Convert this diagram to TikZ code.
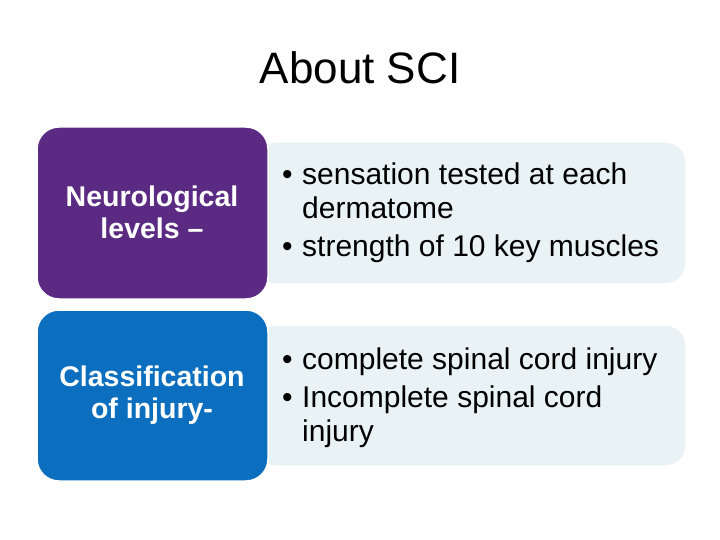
\documentclass[tikz,border=0pt]{standalone}
\usepackage{fontspec}
\setmainfont{Liberation Sans}
\definecolor{purp}{HTML}{5B2A82}
\definecolor{blu}{HTML}{0B6EBE}
\definecolor{lite}{HTML}{E9F3F6}
\begin{document}
\begin{tikzpicture}[x=1pt,y=-1pt,
  lbox/.style={fill=lite,draw=white,line width=1.5pt,rounded corners=20pt},
  dbox/.style={draw=white,line width=1.5pt,rounded corners=22pt},
  ltxt/.style={text=white,font=\bfseries\fontsize{28.5}{32}\selectfont,align=center},
  btxt/.style={anchor=west,font=\fontsize{30}{34}\selectfont,inner sep=0pt}]
\useasboundingbox (0,0) rectangle (720,540);
\node (title) at (360,68) {\fontsize{44}{48}\selectfont About SCI};
\path[lbox] (255,142) rectangle (686,284);
\path[dbox,fill=purp] (37,127) rectangle (268,299);
\path[lbox] (255,325) rectangle (686,466);
\path[dbox,fill=blu] (37,310) rectangle (268,481);
\node[ltxt] (l1) at (152,212) {Neurological\\levels –};
\node[ltxt] (l2) at (152,395) {Classification\\of injury-};
\node[btxt] (b1) at (282,213) {\begin{minipage}{410pt}\raggedright
\hangindent=20pt\makebox[20pt][l]{•}sensation tested at each\\\hspace*{20pt}dermatome\par\vspace{4pt}
\hangindent=20pt\makebox[20pt][l]{•}strength of 10 key muscles\end{minipage}};
\node[btxt] (b2) at (282,398) {\begin{minipage}{410pt}\raggedright
\hangindent=20pt\makebox[20pt][l]{•}complete spinal cord injury\par\vspace{4pt}
\hangindent=20pt\makebox[20pt][l]{•}Incomplete spinal cord\\\hspace*{20pt}injury\end{minipage}};
\end{tikzpicture}
\end{document}
